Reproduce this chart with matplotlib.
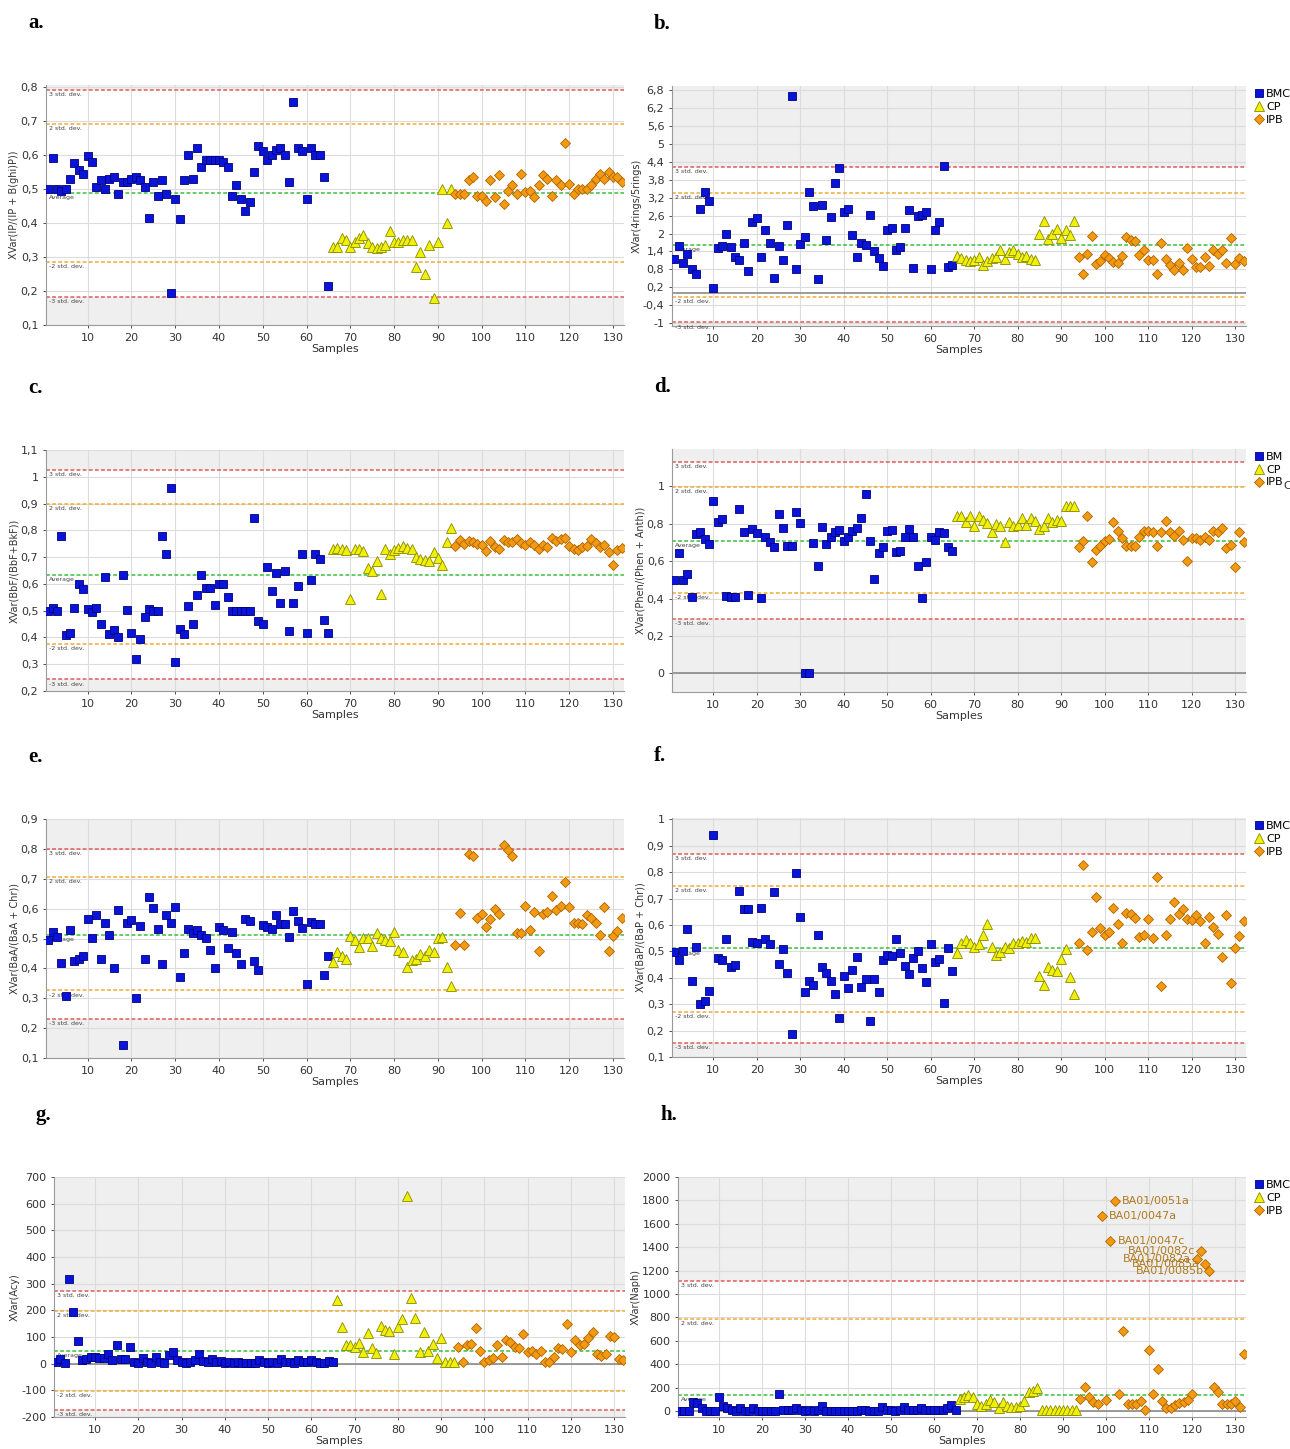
import numpy as np
import matplotlib
matplotlib.use("Agg")
import matplotlib.pyplot as plt
from matplotlib.ticker import FuncFormatter

# --- data (BMC: samples 1-65, CP: 66-93, IPB: 94-132) ---
a_bmc = [0.50, 0.59, 0.50, 0.495, 0.50, 0.53, 0.575, 0.555, 0.545, 0.595,
         0.58, 0.505, 0.525, 0.50, 0.53, 0.535, 0.485, 0.52, 0.52, 0.53,
         0.535, 0.525, 0.505, 0.415, 0.52, 0.48, 0.525, 0.485, 0.195, 0.47,
         0.41, 0.525, 0.60, 0.53, 0.62, 0.565, 0.585, 0.585, 0.585, 0.585,
         0.58, 0.565, 0.48, 0.51, 0.47, 0.435, 0.46, 0.55, 0.625, 0.61,
         0.585, 0.60, 0.615, 0.62, 0.60, 0.52, 0.755, 0.62, 0.61, 0.47,
         0.62, 0.60, 0.60, 0.535, 0.215]
a_cp = [0.33, 0.33, 0.355, 0.35, 0.33, 0.345, 0.355, 0.365, 0.34, 0.33,
        0.325, 0.33, 0.335, 0.375, 0.345, 0.345, 0.35, 0.35, 0.35, 0.27,
        0.315, 0.25, 0.335, 0.18, 0.345, 0.50, 0.40, 0.50]
a_ipb = [0.485, 0.485, 0.485, 0.525, 0.535, 0.48, 0.48, 0.465, 0.525, 0.475,
         0.54, 0.455, 0.495, 0.51, 0.485, 0.545, 0.49, 0.495, 0.475, 0.51,
         0.54, 0.53, 0.48, 0.525, 0.51, 0.635, 0.515, 0.485, 0.50, 0.50,
         0.50, 0.51, 0.53, 0.545, 0.53, 0.55, 0.535, 0.535, 0.52]

b_bmc = [1.15, 1.60, 1.0, 1.31, 0.81, 0.64, 2.83, 3.38, 3.08, 0.16,
         1.51, 1.60, 1.97, 1.55, 1.23, 1.12, 1.69, 0.73, 2.39, 2.52,
         1.2, 2.12, 1.67, 0.51, 1.58, 1.11, 2.28, 6.6, 0.81, 1.65,
         1.87, 3.41, 2.94, 0.46, 2.97, 1.77, 2.56, 3.69, 4.21, 2.71,
         2.81, 1.95, 1.23, 1.70, 1.61, 2.61, 1.41, 1.18, 0.9, 2.13,
         2.18, 1.45, 1.54, 2.18, 2.79, 0.83, 2.59, 2.61, 2.74, 0.82,
         2.12, 2.40, 4.28, 0.89, 0.93]
b_cp = [1.26, 1.18, 1.12, 1.09, 1.10, 1.23, 0.95, 1.09, 1.18, 1.20,
        1.44, 1.16, 1.37, 1.44, 1.31, 1.21, 1.26, 1.15, 1.12, 2.0,
        2.41, 1.82, 1.98, 2.16, 1.85, 2.12, 1.95, 2.43]
b_ipb = [1.22, 0.64, 1.32, 1.93, 0.98, 1.07, 1.29, 1.18, 1.06, 1.01,
         1.25, 1.87, 1.80, 1.74, 1.29, 1.44, 1.12, 1.12, 0.66, 1.70,
         1.15, 0.95, 0.79, 1.01, 0.79, 1.53, 1.16, 0.88, 0.88, 1.22,
         0.92, 1.44, 1.31, 1.45, 1.0, 1.85, 0.99, 1.19, 1.07]

c_bmc = [0.50, 0.51, 0.50, 0.78, 0.41, 0.417, 0.51, 0.60, 0.58, 0.505,
         0.495, 0.51, 0.45, 0.627, 0.414, 0.427, 0.40, 0.632, 0.504, 0.417,
         0.32, 0.395, 0.477, 0.508, 0.50, 0.50, 0.78, 0.71, 0.957, 0.308,
         0.43, 0.412, 0.518, 0.45, 0.56, 0.632, 0.585, 0.586, 0.52, 0.60,
         0.60, 0.55, 0.498, 0.50, 0.50, 0.50, 0.50, 0.847, 0.46, 0.45,
         0.664, 0.574, 0.639, 0.53, 0.65, 0.423, 0.53, 0.592, 0.71, 0.418,
         0.616, 0.713, 0.692, 0.467, 0.417]
c_cp = [0.732, 0.735, 0.732, 0.726, 0.545, 0.732, 0.732, 0.722, 0.66, 0.649,
        0.685, 0.564, 0.73, 0.713, 0.726, 0.735, 0.741, 0.735, 0.732, 0.70,
        0.692, 0.689, 0.686, 0.72, 0.695, 0.67, 0.757, 0.807]
c_ipb = [0.741, 0.763, 0.75, 0.76, 0.757, 0.75, 0.745, 0.722, 0.76, 0.738,
         0.732, 0.763, 0.755, 0.757, 0.766, 0.753, 0.747, 0.757, 0.745, 0.732,
         0.747, 0.738, 0.77, 0.76, 0.767, 0.77, 0.742, 0.732, 0.728, 0.736,
         0.741, 0.766, 0.753, 0.736, 0.747, 0.72, 0.67, 0.726, 0.735]

d_bmc = [0.50, 0.643, 0.50, 0.53, 0.41, 0.745, 0.754, 0.72, 0.69, 0.923,
         0.807, 0.825, 0.415, 0.41, 0.406, 0.88, 0.754, 0.419, 0.772, 0.749,
         0.403, 0.727, 0.70, 0.674, 0.852, 0.78, 0.68, 0.68, 0.865, 0.802,
         0.003, 0.0, 0.695, 0.576, 0.784, 0.69, 0.727, 0.754, 0.766, 0.709,
         0.731, 0.763, 0.775, 0.831, 0.959, 0.709, 0.504, 0.642, 0.674, 0.759,
         0.766, 0.651, 0.652, 0.727, 0.77, 0.727, 0.576, 0.403, 0.597, 0.727,
         0.713, 0.758, 0.752, 0.677, 0.656]
d_cp = [0.841, 0.841, 0.811, 0.843, 0.79, 0.843, 0.822, 0.804, 0.754, 0.799,
        0.79, 0.704, 0.811, 0.79, 0.795, 0.831, 0.795, 0.831, 0.816, 0.772,
        0.786, 0.831, 0.811, 0.822, 0.813, 0.893, 0.893, 0.893]
d_ipb = [0.674, 0.709, 0.84, 0.597, 0.66, 0.683, 0.709, 0.718, 0.807, 0.759,
         0.724, 0.68, 0.68, 0.68, 0.731, 0.759, 0.763, 0.754, 0.683, 0.754,
         0.816, 0.754, 0.736, 0.763, 0.713, 0.599, 0.724, 0.724, 0.715, 0.731,
         0.713, 0.763, 0.754, 0.777, 0.67, 0.686, 0.567, 0.754, 0.704]

e_bmc = [0.496, 0.521, 0.506, 0.418, 0.306, 0.529, 0.426, 0.432, 0.443, 0.566,
         0.501, 0.579, 0.431, 0.551, 0.512, 0.401, 0.596, 0.142, 0.551, 0.562,
         0.30, 0.543, 0.431, 0.64, 0.601, 0.532, 0.415, 0.577, 0.551, 0.607,
         0.37, 0.453, 0.532, 0.518, 0.529, 0.512, 0.503, 0.462, 0.401, 0.54,
         0.527, 0.468, 0.521, 0.453, 0.415, 0.566, 0.56, 0.425, 0.393, 0.546,
         0.538, 0.532, 0.579, 0.549, 0.548, 0.504, 0.592, 0.559, 0.535, 0.347,
         0.555, 0.549, 0.549, 0.379, 0.44]
e_cp = [0.423, 0.454, 0.44, 0.432, 0.507, 0.496, 0.473, 0.501, 0.501, 0.476,
        0.518, 0.501, 0.496, 0.49, 0.521, 0.462, 0.454, 0.406, 0.429, 0.431,
        0.449, 0.44, 0.462, 0.454, 0.501, 0.504, 0.406, 0.34]
e_ipb = [0.477, 0.585, 0.477, 0.783, 0.777, 0.568, 0.581, 0.537, 0.565, 0.598,
         0.581, 0.813, 0.796, 0.777, 0.518, 0.518, 0.61, 0.529, 0.588, 0.459,
         0.582, 0.59, 0.643, 0.596, 0.609, 0.69, 0.607, 0.553, 0.551, 0.549,
         0.579, 0.568, 0.551, 0.512, 0.607, 0.459, 0.507, 0.526, 0.57]

f_bmc = [0.496, 0.467, 0.502, 0.583, 0.389, 0.517, 0.30, 0.312, 0.351, 0.94,
         0.473, 0.467, 0.545, 0.442, 0.45, 0.73, 0.659, 0.659, 0.536, 0.533,
         0.665, 0.545, 0.527, 0.724, 0.454, 0.508, 0.417, 0.187, 0.797, 0.632,
         0.345, 0.389, 0.373, 0.563, 0.442, 0.417, 0.388, 0.338, 0.247, 0.408,
         0.363, 0.429, 0.477, 0.366, 0.395, 0.235, 0.395, 0.345, 0.467, 0.486,
         0.483, 0.548, 0.492, 0.444, 0.414, 0.473, 0.502, 0.438, 0.385, 0.527,
         0.46, 0.47, 0.304, 0.513, 0.427]
f_cp = [0.492, 0.533, 0.542, 0.53, 0.517, 0.527, 0.561, 0.602, 0.517, 0.486,
        0.498, 0.517, 0.514, 0.533, 0.533, 0.538, 0.536, 0.551, 0.551, 0.408,
        0.373, 0.439, 0.429, 0.427, 0.47, 0.508, 0.404, 0.338]
f_ipb = [0.53, 0.827, 0.504, 0.573, 0.705, 0.588, 0.563, 0.573, 0.664, 0.605,
         0.53, 0.645, 0.64, 0.626, 0.555, 0.561, 0.624, 0.551, 0.78, 0.369,
         0.561, 0.624, 0.686, 0.64, 0.659, 0.624, 0.617, 0.636, 0.614, 0.532,
         0.632, 0.592, 0.567, 0.479, 0.636, 0.379, 0.513, 0.557, 0.614]

g_bmc = [5, 18, 1, 318, 195, 86, 14, 16, 26, 26,
         23, 20, 35, 14, 70, 18, 18, 63, 5, 4,
         20, 8, 1, 26, 8, 1, 33, 43, 14, 8,
         4, 8, 14, 35, 10, 8, 18, 8, 11, 4,
         8, 1, 5, 2, 1, 4, 1, 14, 8, 1,
         8, 1, 18, 8, 5, 1, 15, 8, 5, 15,
         5, 1, 1, 10, 8]
g_cp = [239, 139, 70, 70, 64, 76, 43, 114, 58, 39,
        142, 127, 124, 36, 139, 168, 630, 248, 173, 45,
        117, 48, 74, 23, 95, 8, 8, 8]
g_ipb = [64, 5, 70, 73, 135, 49, 8, 14, 23, 70,
         24, 89, 83, 64, 58, 110, 43, 49, 35, 48,
         5, 5, 24, 58, 55, 148, 45, 89, 70, 74,
         95, 118, 36, 30, 35, 102, 99, 18, 13]

h_bmc = [3, 3, 3, 74, 66, 31, 3, 3, 3, 123,
         46, 31, 14, 3, 26, 3, 3, 26, 3, 3,
         3, 3, 3, 145, 14, 9, 14, 31, 9, 3,
         14, 3, 14, 46, 3, 3, 3, 3, 3, 3,
         3, 3, 14, 9, 3, 3, 3, 37, 14, 9,
         3, 14, 37, 14, 9, 14, 31, 14, 9, 14,
         14, 14, 31, 54, 14]
h_cp = [103, 117, 137, 117, 62, 46, 57, 97, 80, 29,
        80, 46, 34, 34, 46, 86, 160, 172, 194, 14,
        14, 14, 14, 14, 14, 14, 14, 14]
h_ipb = [100, 208, 117, 74, 57, 1663, 91, 1455, 1792, 143,
         688, 63, 63, 63, 86, 9, 522, 148, 360, 86,
         31, 31, 51, 66, 80, 97, 148, 1298, 1367, 1258,
         1193, 208, 165, 63, 63, 63, 86, 37, 485]

h_label_samples = [99, 101, 102, 121, 122, 123, 124]
h_label_texts = ["BA01/0047a", "BA01/0047c", "BA01/0051a",
                 "BA01/0082a", "BA01/0082c", "BA01/0085a", "BA01/0085b"]

# control limits: average, +-2 std. dev., +-3 std. dev.
averages = [0.487, 1.61, 0.635, 0.709, 0.513, 0.511, 48, 137]
sd2_upper = [0.69, 3.37, 0.897, 0.995, 0.707, 0.749, 199, 787]
sd2_lower = [0.285, -0.12, 0.374, 0.431, 0.326, 0.272, -101, -513]
sd3_upper = [0.79, 4.23, 1.025, 1.132, 0.80, 0.868, 274, 1113]
sd3_lower = [0.183, -0.98, 0.243, 0.289, 0.231, 0.153, -175, -839]

y_labels = ["XVar(IP/(IP + B(ghi)P))", "XVar(4rings/5rings)",
            "XVar(BbF/(BbF+BkF))", "XVar(Phen/(Phen + Anth))",
            "XVar(BaA/(BaA + Chr))", "XVar(BaP/(BaP + Chr))",
            "XVar(Acy)", "XVar(Naph)"]
y_ticks = [[0.1, 0.2, 0.3, 0.4, 0.5, 0.6, 0.7, 0.8],
           [-1, -0.4, 0.2, 0.8, 1.4, 2, 2.6, 3.2, 3.8, 4.4, 5, 5.6, 6.2, 6.8],
           [0.2, 0.3, 0.4, 0.5, 0.6, 0.7, 0.8, 0.9, 1, 1.1],
           [0, 0.2, 0.4, 0.6, 0.8, 1],
           [0.1, 0.2, 0.3, 0.4, 0.5, 0.6, 0.7, 0.8, 0.9],
           [0.1, 0.2, 0.3, 0.4, 0.5, 0.6, 0.7, 0.8, 0.9, 1],
           [-200, -100, 0, 100, 200, 300, 400, 500, 600, 700],
           [0, 200, 400, 600, 800, 1000, 1200, 1400, 1600, 1800, 2000]]
y_limits = [(0.1, 0.805), (-1.1, 6.95), (0.2, 1.1), (-0.1, 1.2),
            (0.1, 0.9), (0.1, 1.005), (-200, 700), (-50, 2000)]
panel_letters = ["a.", "b.", "c.", "d.", "e.", "f.", "g.", "h."]
legend_names = [None, ["BMC", "CP", "IPB"], None, ["BM", "CP", "IPB"],
                None, ["BMC", "CP", "IPB"], None, ["BMC", "CP", "IPB"]]

all_data = [(a_bmc, a_cp, a_ipb), (b_bmc, b_cp, b_ipb), (c_bmc, c_cp, c_ipb),
            (d_bmc, d_cp, d_ipb), (e_bmc, e_cp, e_ipb), (f_bmc, f_cp, f_ipb),
            (g_bmc, g_cp, g_ipb), (h_bmc, h_cp, h_ipb)]

# axes boxes in pixels: left, top, right, bottom
boxes = [(46, 85, 624, 325), (672, 86, 1246, 326),
         (46, 450, 624, 691), (672, 449, 1246, 692),
         (46, 819, 624, 1058), (672, 818, 1246, 1057),
         (54, 1177, 625, 1417), (678, 1177, 1246, 1417)]

W, H = 1290, 1449
fig = plt.figure(figsize=(W / 100, H / 100), dpi=100)
fig.patch.set_facecolor("white")


def comma(v, pos):
    s = f"{round(v, 3):g}"
    return s.replace(".", ",")


def draw_panel(i):
    l, t, r, b = boxes[i]
    ax = fig.add_axes([l / W, 1 - b / H, (r - l) / W, (b - t) / H])
    lo, hi = y_limits[i]
    ax.set_xlim(0.5, 132.5)
    ax.set_ylim(lo, hi)

    # grey zones outside +-3 std. dev.
    if sd3_upper[i] < hi:
        ax.axhspan(sd3_upper[i], hi, color="#efefef", zorder=0, lw=0)
    if sd3_lower[i] > lo:
        ax.axhspan(lo, sd3_lower[i], color="#efefef", zorder=0, lw=0)

    ax.set_xticks(range(10, 131, 10))
    ax.set_yticks(y_ticks[i])
    ax.yaxis.set_major_formatter(FuncFormatter(comma))
    ax.grid(True, color="#dcdcdc", lw=0.8, zorder=0.5)
    ax.set_axisbelow(True)
    if lo < 0 < hi:
        ax.axhline(0, color="#8a8a8a", lw=1.2, zorder=1)

    lines = [(sd3_upper[i], "#e05a5a", "3 std. dev."),
             (sd2_upper[i], "#f0aa35", "2 std. dev."),
             (averages[i], "#38c038", "Average"),
             (sd2_lower[i], "#f0aa35", "-2 std. dev."),
             (sd3_lower[i], "#e05a5a", "-3 std. dev.")]
    for val, col, txt in lines:
        if lo < val < hi:
            ax.axhline(val, color=col, lw=1.1, ls=(0, (2.5, 1.5)), zorder=2)
            ax.annotate(txt, (0, val), xycoords=("axes fraction", "data"),
                        xytext=(2, -1.5), textcoords="offset points",
                        fontsize=4.5, color="#444444", va="top")

    bmc, cp, ipb = all_data[i]
    names = legend_names[i] or ["BMC", "CP", "IPB"]
    ax.plot(np.arange(1, 66), bmc, ls="none", marker="s", ms=6.2,
            mfc="#0a14d8", mec="#00007a", mew=0.6, zorder=3, label=names[0])
    ax.plot(np.arange(66, 94), cp, ls="none", marker="^", ms=6.5,
            mfc="#f0f00a", mec="#8a8a00", mew=0.6, zorder=3, label=names[1])
    ax.plot(np.arange(94, 133), ipb, ls="none", marker="D", ms=5.6,
            mfc="#f29a12", mec="#b06400", mew=0.6, zorder=3, label=names[2])

    for side in ["top", "right"]:
        ax.spines[side].set_visible(False)
    for side in ["left", "bottom"]:
        ax.spines[side].set_color("#9a9a9a")
    ax.tick_params(labelsize=8, colors="#333333", length=2, width=0.6)
    ax.set_xlabel("Samples", fontsize=8, color="#333333", labelpad=1)
    ax.set_ylabel(y_labels[i], fontsize=7, color="#333333", labelpad=1)

    if legend_names[i]:
        ax.legend(loc="upper left", bbox_to_anchor=(1.0, 1.02), frameon=False,
                  fontsize=8, handletextpad=0.1, borderaxespad=0.3,
                  labelspacing=0.25, handlelength=1.0, markerscale=1.0)

    fig.text((l - 18) / W, 1 - (t - 62) / H, panel_letters[i], fontsize=15,
             fontweight="bold", family="Liberation Serif", va="center")
    return ax


axes = [draw_panel(i) for i in range(8)]

# quirky legend subscript of panel d
fig.text(1283 / W, 1 - 489 / H, "C", fontsize=8, color="#333333")

# outlier labels in panel h (the last four overlap, as in the source chart)
ax_h = axes[7]
for s, txt in zip(h_label_samples, h_label_texts):
    v = h_ipb[s - 94]
    if s < 110:
        ax_h.annotate(txt, (s, v), xytext=(5, 0), textcoords="offset points",
                      fontsize=8, color="#b07a20", va="center", ha="left")
    else:
        ax_h.annotate(txt, (s, v), xytext=(-4, 0), textcoords="offset points",
                      fontsize=8, color="#b07a20", va="center", ha="right")

fig.savefig("out.png", dpi=100)
